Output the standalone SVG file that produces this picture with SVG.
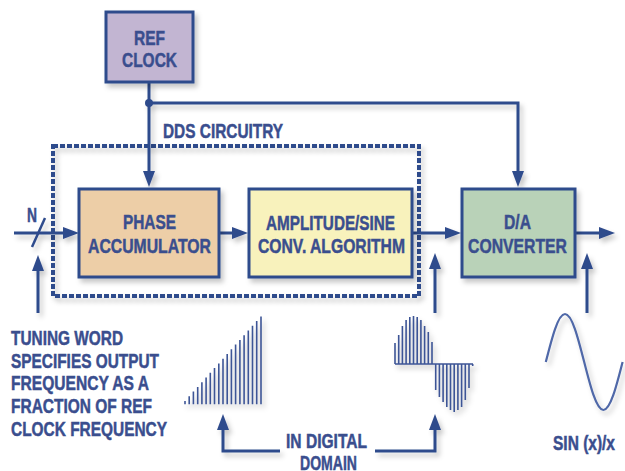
<svg xmlns="http://www.w3.org/2000/svg" width="625" height="471" viewBox="0 0 625 471">
<style>
.box{stroke:#2f4b8c;stroke-width:3}
.t{font-family:"Liberation Sans",Arial,sans-serif;font-weight:bold;font-size:21px;fill:#3a4e8e;stroke:#3a4e8e;stroke-width:0.5}
.ln{fill:none;stroke:#2f4b8c;stroke-width:3}
.bar{stroke:#3d5596;stroke-width:1.6}
</style>
<defs>
<filter id="ds" x="-20%" y="-20%" width="150%" height="150%">
<feDropShadow dx="3" dy="4" stdDeviation="2.5" flood-color="#000" flood-opacity="0.22"/>
</filter>
<marker id="ah" viewBox="0 0 16 12" refX="6" refY="6" markerWidth="16" markerHeight="12" orient="auto" markerUnits="userSpaceOnUse">
<path d="M0,0 L16,6 L0,12 z" fill="#2f4b8c"/>
</marker>
</defs>
<rect width="625" height="471" fill="#fff"/>

<g id="dds-circuitry">
<rect x="53" y="146" width="366" height="150" fill="none" stroke="#2f4b8c" stroke-width="4" stroke-dasharray="5 2" filter="url(#ds)"/>
<text class="t" x="163" y="138" textLength="120" lengthAdjust="spacingAndGlyphs">DDS CIRCUITRY</text>
</g>

<g id="connectors" filter="url(#ds)">
<path class="ln" d="M14,233 H69" marker-end="url(#ah)"/>
<path d="M32,247 L45,218" stroke="#2f4b8c" stroke-width="2.5"/>
<path class="ln" d="M149,82 V177" marker-end="url(#ah)"/>
<path class="ln" d="M149,103 H518 V177" marker-end="url(#ah)"/>
<circle cx="149" cy="103" r="4" fill="#2f4b8c"/>
<path class="ln" d="M219,233 H238" marker-end="url(#ah)"/>
<path class="ln" d="M412,233 H451" marker-end="url(#ah)"/>
<path class="ln" d="M575,233 H605" marker-end="url(#ah)"/>
<path class="ln" d="M38,313 V265" marker-end="url(#ah)"/>
<path class="ln" d="M435,313 V263" marker-end="url(#ah)"/>
<path class="ln" d="M587,313 V263" marker-end="url(#ah)"/>
<path class="ln" d="M280,451 H223 V424" marker-end="url(#ah)"/>
<path class="ln" d="M375,451 H435 V424" marker-end="url(#ah)"/>
</g>

<g id="ref-clock">
<rect class="box" x="106" y="12" width="87" height="70" fill="#c2b5d2" filter="url(#ds)"/>
<text class="t" x="134" y="45" textLength="31" lengthAdjust="spacingAndGlyphs">REF</text>
<text class="t" x="122" y="67" textLength="55" lengthAdjust="spacingAndGlyphs">CLOCK</text>
</g>

<g id="phase-accumulator">
<rect class="box" x="79" y="189" width="140" height="88" fill="#edcea7" filter="url(#ds)"/>
<text class="t" x="123" y="229" textLength="53" lengthAdjust="spacingAndGlyphs">PHASE</text>
<text class="t" x="88" y="253" textLength="123" lengthAdjust="spacingAndGlyphs">ACCUMULATOR</text>
</g>

<g id="amplitude-sine">
<rect class="box" x="249" y="189" width="163" height="88" fill="#f8f2bc" filter="url(#ds)"/>
<text class="t" x="266" y="230" textLength="129" lengthAdjust="spacingAndGlyphs">AMPLITUDE/SINE</text>
<text class="t" x="258" y="253" textLength="147" lengthAdjust="spacingAndGlyphs">CONV. ALGORITHM</text>
</g>

<g id="da-converter">
<rect class="box" x="462" y="189" width="113" height="88" fill="#b9d2b8" filter="url(#ds)"/>
<text class="t" x="504" y="229" textLength="27" lengthAdjust="spacingAndGlyphs">D/A</text>
<text class="t" x="468" y="253" textLength="99" lengthAdjust="spacingAndGlyphs">CONVERTER</text>
</g>

<g id="labels">
<text class="t" x="27" y="222" textLength="10" lengthAdjust="spacingAndGlyphs">N</text>
<text class="t" x="11" y="345" textLength="112" lengthAdjust="spacingAndGlyphs">TUNING WORD</text>
<text class="t" x="11" y="367.7" textLength="148" lengthAdjust="spacingAndGlyphs">SPECIFIES OUTPUT</text>
<text class="t" x="11" y="390.3" textLength="138" lengthAdjust="spacingAndGlyphs">FREQUENCY AS A</text>
<text class="t" x="11" y="413" textLength="141" lengthAdjust="spacingAndGlyphs">FRACTION OF REF</text>
<text class="t" x="11" y="435.7" textLength="156" lengthAdjust="spacingAndGlyphs">CLOCK FREQUENCY</text>
<text class="t" x="286" y="448" textLength="81" lengthAdjust="spacingAndGlyphs">IN DIGITAL</text>
<text class="t" x="300" y="469.5" textLength="57" lengthAdjust="spacingAndGlyphs">DOMAIN</text>
<text class="t" x="615" y="450" text-anchor="end" textLength="62" lengthAdjust="spacingAndGlyphs">SIN (x)/x</text>
</g>

<g id="ramp-samples" filter="url(#ds)">
<path class="bar" d="M185,404.3V401 M189.2,404.3V396.3 M193.4,404.3V391.6 M197.7,404.3V386.9 M201.9,404.3V382.2 M206.1,404.3V377.5 M210.3,404.3V372.8 M214.5,404.3V368.1 M218.8,404.3V363.4 M223,404.3V358.7 M227.2,404.3V354 M231.4,404.3V349.3 M235.6,404.3V344.6 M239.9,404.3V339.9 M244.1,404.3V335.2 M248.3,404.3V330.5 M252.5,404.3V325.8 M256.7,404.3V321.1 M261,404.3V316.4"/>
</g>

<g id="sine-samples" filter="url(#ds)">
<path class="bar" stroke-width="1" d="M395,364H473"/>
<path class="bar" d="M395,364V343 M398.7,364V335 M402.4,364V326 M406.1,364V320 M409.8,364V317 M413.5,364V316 M417.2,364V317 M420.9,364V320 M424.6,364V326 M428.3,364V332 M432,364V342 M435.7,364V390 M439.4,364V397 M443.1,364V402 M446.8,364V407 M450.5,364V410 M454.2,364V412 M457.9,364V410 M461.6,364V407 M465.3,364V400 M469,364V388 M472.7,364V366"/>
</g>

<g id="analog-sine">
<path d="M545.8,362 C552.07,337.39 558.05,314 565,314 C571.95,314 577.93,337.39 584.2,362 C590.47,386.61 596.45,410 603.4,410 C610.35,410 616.33,386.61 622.6,362" fill="none" stroke="#4f68a8" stroke-width="2.2" filter="url(#ds)"/>
</g>
</svg>
